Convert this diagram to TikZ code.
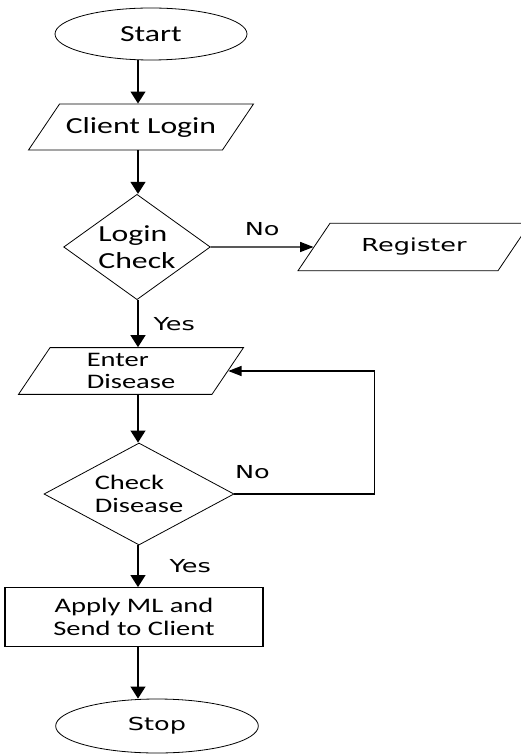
\documentclass[tikz,border=0pt]{standalone}
\usepackage{fontspec}
\newfontfamily\calfont[FakeStretch=1.38]{Carlito}
\newfontfamily\verfont[FakeStretch=1.43]{DejaVu Sans}
\usetikzlibrary{positioning,arrows.meta,shapes.geometric}
\tikzset{
chart/.style={
    x=0.75pt,
    y=0.75pt,
    node distance=2cm
},
terminal/.style={
    ellipse,
    draw,
    line width=0.6pt,
    inner sep=0pt
},
io/.style={
    trapezium,
    trapezium left angle=56,
    trapezium right angle=124,
    trapezium stretches body=true,
    draw,
    line width=0.6pt,
    inner xsep=0pt,
    minimum width=168.75pt
},
decision/.style={
    diamond,
    draw,
    line width=0.6pt,
    aspect=1.4,
    inner sep=0pt
},
process/.style={
    rectangle,
    draw,
    line width=0.8pt,
    minimum width=193.5pt,
    minimum height=44pt
},
bigtxt/.style={
    font=\calfont\fontsize{17.25}{20}\selectfont
},
smalltxt/.style={
    font=\calfont\fontsize{15.5}{17}\selectfont
},
answer/.style={
    font=\verfont\fontsize{13.4}{16}\selectfont,
    inner sep=0pt
},
flow/.style={
    -{Triangle[length=9pt,width=11pt]},
    line width=1.5pt
},
back/.style={
    -{Triangle[length=10pt,width=7.5pt]},
    line width=0.9pt
}}

\begin{document}
\begin{tikzpicture}[chart]
\useasboundingbox (0,0) rectangle (520,-755);
\node[terminal, bigtxt] (start) at (151,-34) [minimum width=144pt, minimum height=39pt] {Start};
\node[io, bigtxt]       (login)  [below of=start, node distance=69.75pt, xshift=-7.5pt, inner ysep=9.8pt] {Client Login};
\node[decision, bigtxt, align=left] (check) [below of=login, node distance=90pt, xshift=-3pt, minimum width=110pt, minimum height=79pt] {Login\\Check};
\node[io, answer]       (reg)    [right of=check, node distance=207.75pt, minimum width=174pt, inner ysep=11.3pt] {Register};
\node[io, smalltxt, align=left] (enter) [below of=check, node distance=93pt, xshift=-4.5pt, inner ysep=4pt] {Enter\\Disease};
\node[decision, smalltxt, align=left] (chkdis) [below of=enter, node distance=92.25pt, xshift=6pt, minimum width=142.5pt, minimum height=76.5pt] {Check\\Disease};
\node[process, smalltxt, align=center] (apply) [below of=chkdis, node distance=92.25pt, xshift=-3.75pt] {Apply ML and\\Send to Client};
\node[terminal, answer] (stop)   [below of=apply, node distance=81.75pt, xshift=17.25pt, minimum width=152pt, minimum height=40.5pt] {Stop};
\coordinate (axis) at (138,0);

\path    (start.south -| axis)    edge[flow]    (login.north -| axis);
\path    (login.south -| axis)    edge[flow]    (check.north -| axis);
\path    (check.south -| axis)    edge[flow]    node[answer, right=11pt] {Yes}    (enter.north -| axis);
\path    (check.east)    edge[back]    node[answer, above=8pt] {No}    (reg.west);
\path    (enter.south -| axis)    edge[flow]    (chkdis.north -| axis);
\path    (chkdis.south -| axis)    edge[flow]    node[answer, right=23pt] {Yes}    (apply.north -| axis);
\path    (apply.south -| axis)    edge[flow]    (stop.north -| axis);
\draw[back]    (chkdis.east) -- node[answer, pos=0, anchor=south west, yshift=11pt] {No} ++(140,0) |- (enter.east);
\end{tikzpicture}
\end{document}
